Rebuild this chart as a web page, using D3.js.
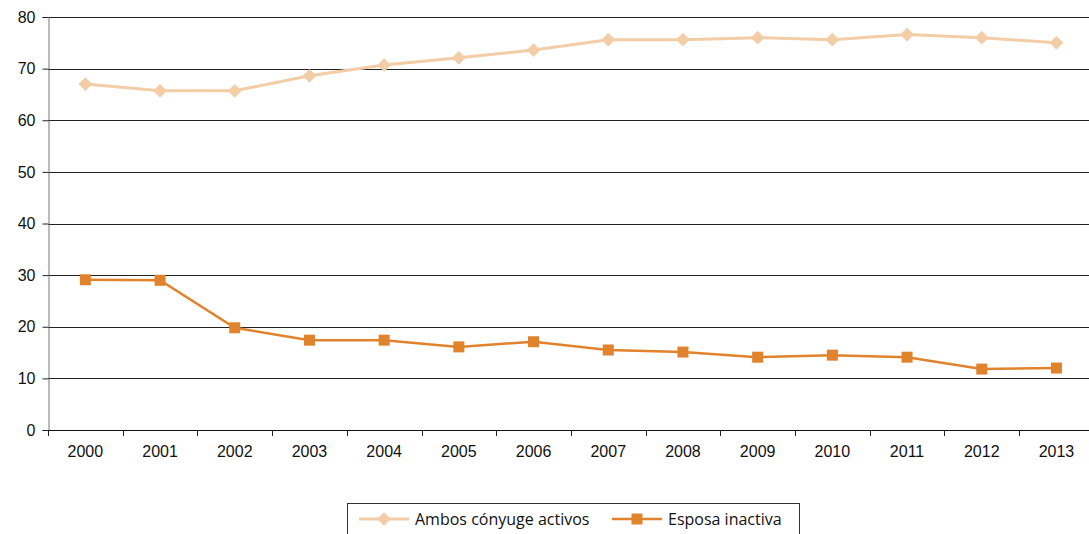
<!DOCTYPE html>
<html>
<head>
<meta charset="utf-8">
<script src="https://cdn.jsdelivr.net/npm/d3@7"></script>
<style>
  body { margin: 0; background: #fff; }
  svg { display: block; font-family: "Open Sans", sans-serif; }
</style>
</head>
<body>
<svg id="chart" width="1089" height="534"></svg>
<script>
// data
var years = ["2000","2001","2002","2003","2004","2005","2006","2007","2008","2009","2010","2011","2012","2013"];
var ambos = [67.0, 65.7, 65.7, 68.6, 70.7, 72.1, 73.6, 75.6, 75.6, 76.0, 75.6, 76.6, 76.0, 75.0];
var esposa = [29.1, 29.0, 19.8, 17.4, 17.4, 16.1, 17.1, 15.5, 15.1, 14.1, 14.5, 14.1, 11.8, 12.0];
var yTicks = [0, 10, 20, 30, 40, 50, 60, 70, 80];

var colAmbos = "#f2cda6", colEsposa = "#e0832c";

var draw = function() {
  var svg = d3.select("#chart");
  var left = 48, plotTop = 17, bottom = 430, band = 74.7;

  var x = d3.scaleBand().domain(years).range([left, left + band * years.length]);
  var y = d3.scaleLinear().domain([0, 80]).range([bottom, plotTop]);

  // gridlines
  svg.append("g").selectAll("line").data(yTicks.filter(function(d){ return d > 0; }))
    .enter().append("line")
    .attr("x1", left).attr("x2", 1089)
    .attr("y1", function(d){ return Math.round(y(d)) + 0.5; })
    .attr("y2", function(d){ return Math.round(y(d)) + 0.5; })
    .attr("stroke", "#222").attr("stroke-width", 1);

  // y axis
  var yAxis = svg.append("g").attr("transform", "translate(" + (left + 0.5) + ",0)")
    .call(d3.axisLeft(y).tickValues(yTicks).tickSize(6).tickPadding(6));
  yAxis.select(".domain").attr("stroke", "#777");
  yAxis.selectAll(".tick line").attr("stroke", "#222");
  yAxis.selectAll("text").attr("font-size", 16).attr("fill", "#111").attr("x", -13).attr("text-anchor", "end");

  // x axis
  var xAxis = svg.append("g").attr("transform", "translate(0," + (bottom + 0.5) + ")")
    .call(d3.axisBottom(x).tickSize(0).tickPadding(15));
  xAxis.select(".domain").attr("stroke", "#111").attr("d", "M" + left + ",0H1089");
  xAxis.selectAll("text").attr("font-size", 16).attr("fill", "#111");
  // tick marks between categories
  svg.append("g").selectAll("line").data(d3.range(years.length + 1))
    .enter().append("line")
    .attr("x1", function(i){ return Math.round(left + i * band) + 0.5; })
    .attr("x2", function(i){ return Math.round(left + i * band) + 0.5; })
    .attr("y1", bottom).attr("y2", bottom + 6)
    .attr("stroke", "#222");

  var cx = function(d, i){ return x(years[i]) + x.bandwidth() / 2; };
  var line = d3.line().x(function(d, i){ return cx(d, i); }).y(function(d){ return y(d); });

  // Ambos series
  svg.append("path").datum(ambos).attr("d", line)
    .attr("fill", "none").attr("stroke", colAmbos).attr("stroke-width", 3);
  svg.append("g").selectAll("path").data(ambos).enter().append("path")
    .attr("d", d3.symbol().type(d3.symbolDiamond2).size(120))
    .attr("transform", function(d, i){ return "translate(" + cx(d, i) + "," + y(d) + ")"; })
    .attr("fill", colAmbos);

  // Esposa series
  svg.append("path").datum(esposa).attr("d", line)
    .attr("fill", "none").attr("stroke", colEsposa).attr("stroke-width", 2.5);
  svg.append("g").selectAll("rect").data(esposa).enter().append("rect")
    .attr("x", function(d, i){ return cx(d, i) - 5.5; })
    .attr("y", function(d){ return y(d) - 5.5; })
    .attr("width", 11).attr("height", 11)
    .attr("fill", colEsposa);

  // legend
  var lg = svg.append("g");
  lg.append("rect").attr("x", 347.5).attr("y", 503.5).attr("width", 452).attr("height", 40)
    .attr("fill", "#fff").attr("stroke", "#333");
  var items = [
    { name: "Ambos cónyuge activos", color: colAmbos, shape: "diamond", x: 359 },
    { name: "Esposa inactiva", color: colEsposa, shape: "square", x: 612 }
  ];
  items.forEach(function(it){
    var g = lg.append("g").attr("transform", "translate(" + it.x + ",519)");
    g.append("line").attr("x1", 0).attr("x2", 50).attr("y1", 0).attr("y2", 0)
      .attr("stroke", it.color).attr("stroke-width", it.shape === "diamond" ? 3 : 2.5);
    if (it.shape === "diamond") {
      g.append("path").attr("d", d3.symbol().type(d3.symbolDiamond2).size(120))
        .attr("transform", "translate(25,0)").attr("fill", it.color);
    } else {
      g.append("rect").attr("x", 19.5).attr("y", -5.5).attr("width", 11).attr("height", 11).attr("fill", it.color);
    }
    g.append("text").attr("x", 56).attr("y", 5.5).attr("font-size", 16).attr("fill", "#111").text(it.name);
  });
};

draw();
</script>
</body>
</html>
